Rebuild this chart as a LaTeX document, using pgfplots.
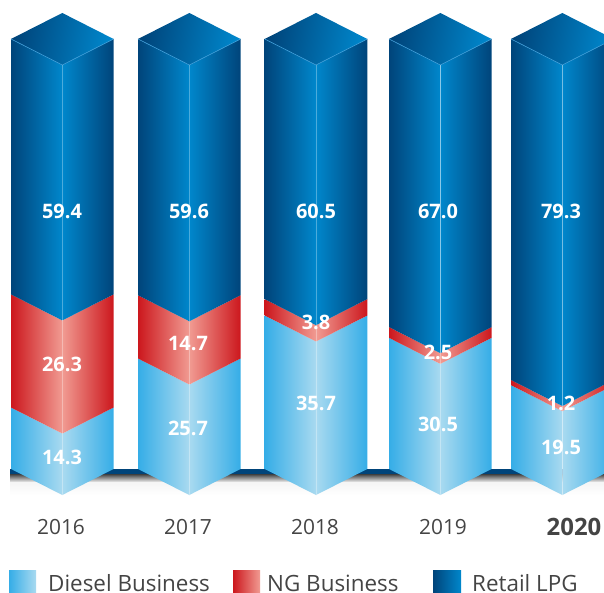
\documentclass[border=0pt]{standalone}
\usepackage{pgfplots}
\usepackage{pgfplotstable}
\usepackage{fontspec}
\pgfplotsset{compat=1.18}
\setmainfont{Open Sans}

% Gradient stops of the three businesses
\definecolor{blueOut}{HTML}{00447A}
\definecolor{blueIn}{HTML}{0087CC}
\definecolor{redOut}{HTML}{CC171D}
\definecolor{redIn}{HTML}{F19B92}
\definecolor{skyOut}{HTML}{35ADE7}
\definecolor{skyIn}{HTML}{A9DAF0}
\definecolor{edgeBlue}{HTML}{3E9DD8}
\definecolor{txt}{HTML}{444444}

% Value labels: column position, height on the value scale, text
\pgfplotstableread{
x     y      label
62    8.84   14.3
62    30.47  26.3
62    66.05  59.4
188   15.58  25.7
188   35.12  14.7
189   66.05  59.6
316   21.40  35.7
316   40.23  3.8
316   66.05  60.5
438   16.51  30.5
438   33.26  2.5
438   66.05  67.0
561   11.16  19.5
561   21.40  1.2
561   66.05  79.3
}\valuelabels

\def\halfw{51.3}
\def\drop{6.05}

% One stacked segment of a prism: left and right faces between lo and hi
\newcommand{\segment}[5]{%
  \pgfmathsetmacro\xl{#1-\halfw}%
  \pgfmathsetmacro\xr{#1+\halfw}%
  \pgfmathsetmacro\lo{#2}%
  \pgfmathsetmacro\hi{#3}%
  \pgfmathsetmacro\los{#2+\drop}%
  \pgfmathsetmacro\his{#3+\drop}%
  \edef\tmp{\noexpand\addplot[draw=none,left color=#4,right color=#5]
    coordinates {(\xl,\los) (#1,\lo) (#1,\hi) (\xl,\his)} --cycle;
    \noexpand\addplot[draw=none,left color=#5,right color=#4]
    coordinates {(#1,\lo) (\xr,\los) (\xr,\his) (#1,\hi)} --cycle;}%
  \tmp}

% Full prism: diesel, NG and retail LPG stacked, then the lid and edge lines
\newcommand{\prism}[4]{%
  \pgfmathsetmacro\cA{#2}%
  \pgfmathsetmacro\cB{#2+#3}%
  \pgfmathsetmacro\cC{#2+#3+#4}%
  \segment{#1}{0}{\cA}{skyOut}{skyIn}%
  \segment{#1}{\cA}{\cB}{redOut}{redIn}%
  \segment{#1}{\cB}{\cC}{blueOut}{blueIn}%
  \pgfmathsetmacro\xl{#1-\halfw}\pgfmathsetmacro\xr{#1+\halfw}%
  \pgfmathsetmacro\ys{\cC+\drop}\pgfmathsetmacro\ya{\cC+2*\drop}%
  \edef\tmp{\noexpand\addplot[draw=none,left color=blueOut,right color=blueIn,shading angle=80]
    coordinates {(\xl,\ys) (#1,\ya) (\xr,\ys) (#1,\cC)} --cycle;
    \noexpand\addplot[edgeBlue,line width=0.6pt]
    coordinates {(\xl,\ys) (#1,\cC) (\xr,\ys)};
    \noexpand\addplot[white,opacity=0.3,line width=0.7pt]
    coordinates {(#1,0) (#1,\cC)};}%
  \tmp}

% Legend swatch spanning two x positions
\newcommand{\swatch}[4]{%
  \addplot[draw=none,left color=#3,right color=#4]
    coordinates {(#1,-17.67) (#2,-17.67) (#2,-22.79) (#1,-22.79)} --cycle;}

\begin{document}
\begin{tikzpicture}
\begin{axis}[
  hide axis,
  scale only axis,
  width=604bp,
  height=593bp,
  xmin=0, xmax=604,
  ymin=-22.79, ymax=115.12,
]
  % Full plotting area kept as the extent of the picture
  \path (axis cs:0,-22.79) rectangle (axis cs:604,115.12);

  % Baseline and its soft shadow
  \addplot[draw=none,fill=blueOut] coordinates {(10,6.05) (604,6.05) (604,4.88) (10,4.88)} --cycle;
  \addplot[draw=none,top color=black!75,bottom color=black!6]
    coordinates {(10,4.88) (604,4.88) (604,3.0) (10,3.0)} --cycle;
  \addplot[draw=none,top color=black!4,bottom color=white]
    coordinates {(10,3.0) (604,3.0) (604,0) (10,0)} --cycle;

  % x position, Diesel, NG, Retail LPG
  \prism{62.3}{14.3}{26.3}{59.4}
  \prism{189.3}{25.7}{14.7}{59.6}
  \prism{316}{35.7}{3.8}{60.5}
  \prism{440.3}{30.5}{2.5}{67.0}
  \prism{562.3}{19.5}{1.2}{79.3}

  % Values printed on the segments
  \addplot[draw=none,mark=none,
    nodes near coords,
    nodes near coords align={center},
    point meta=explicit symbolic,
    every node near coord/.append style={
      font=\bfseries\fontsize{20}{20}\selectfont,
      text=white,inner sep=0pt,anchor=center}]
    table[x=x,y=y,meta=label] {\valuelabels};

  % Year labels
  \node[txt,font=\fontsize{21}{21}\selectfont] at (axis cs:61,-7.44) {2016};
  \node[txt,font=\fontsize{21}{21}\selectfont] at (axis cs:188,-7.44) {2017};
  \node[txt,font=\fontsize{21}{21}\selectfont] at (axis cs:315,-7.44) {2018};
  \node[txt,font=\fontsize{21}{21}\selectfont] at (axis cs:443,-7.44) {2019};
  \node[txt,font=\bfseries\fontsize{24}{24}\selectfont] at (axis cs:574,-7.44) {2020};

  % Legend
  \swatch{9}{36}{skyOut}{skyIn}
  \swatch{233}{260}{redOut}{redIn}
  \swatch{433}{461}{blueOut}{blueIn}
  \node[txt,anchor=base west,inner sep=0pt,font=\fontsize{22.5}{22.5}\selectfont] at (axis cs:48,-22.33) {Diesel Business};
  \node[txt,anchor=base west,inner sep=0pt,font=\fontsize{22.5}{22.5}\selectfont] at (axis cs:267,-22.33) {NG Business};
  \node[txt,anchor=base west,inner sep=0pt,font=\fontsize{22.5}{22.5}\selectfont] at (axis cs:472,-22.33) {Retail LPG};
\end{axis}
\end{tikzpicture}
\end{document}
